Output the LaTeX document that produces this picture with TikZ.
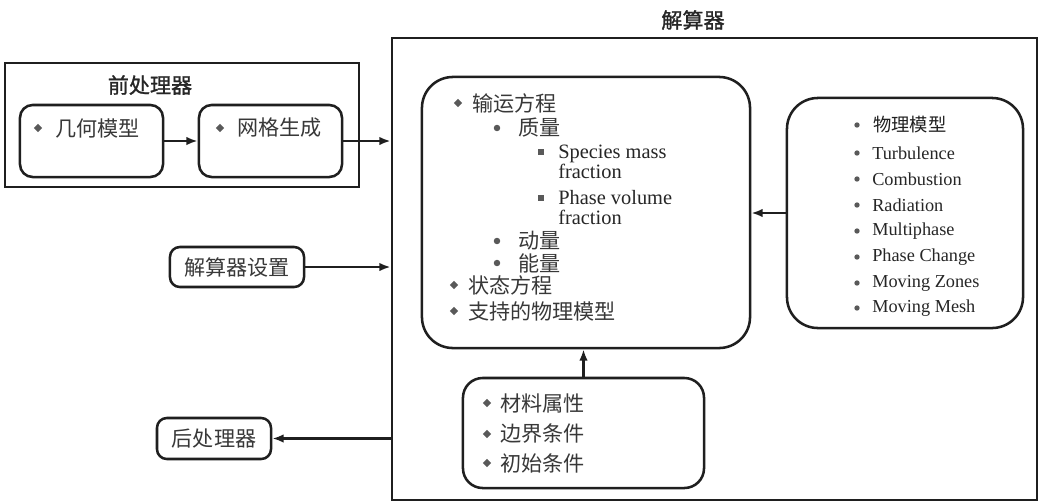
\documentclass[tikz,border=0pt]{standalone}
\usepackage{fontspec}
\setmainfont{Liberation Serif}
\newfontfamily\cjk{Noto Sans CJK SC}
\newfontfamily\cjkb[FakeBold=1.2]{Noto Sans CJK SC}
\usetikzlibrary{arrows.meta}
\newcommand\mydia[2]{\fill[bulc] (#1,#2) +(-4.2,0) -- +(0,-4.2) -- +(4.2,0) -- +(0,4.2) -- cycle;}
\newcommand\mycirc[3][2.3pt]{\fill[bulc] (#2,#3) circle[radius=#1];}
\newcommand\mysq[2]{\fill[bulc] (#1,#2) +(-3.3,-3.3) rectangle +(3.3,3.3);}
\begin{document}
\begin{tikzpicture}[x=0.025cm,y=-0.025cm,
  bulc/.style={fill=black!65},
  ln/.style={draw=black!88, line width=1.8pt},
  sqbox/.style={ln, rectangle, inner sep=0pt},
  rbox/.style={ln, rectangle, rounded corners=#1, inner sep=0pt},
  rbox/.default=8pt,
  arr/.style={draw=black!88, line width=2pt, -{Latex[length=8pt,width=6pt]}},
  cj/.style={font=\cjk\fontsize{15}{17}\selectfont, text=black!78, inner sep=0pt},
  cjs/.style={font=\cjk\fontsize{13}{15}\selectfont, text=black!88, inner sep=0pt},
  en/.style={font=\fontsize{14.5}{14.2}\selectfont, text=black!85, inner sep=0pt, align=left},
  ens/.style={font=\fontsize{13}{15}\selectfont, text=black!85, inner sep=0pt},
  ttl/.style={font=\cjkb\fontsize{15}{17}\selectfont, text=black!85, inner sep=0pt},
  lt/.style={anchor=west}
]
\path[fill=white, use as bounding box] (0,0) rectangle (1041,502);

% boxes
\node[sqbox, minimum width=8.85cm, minimum height=3.1cm] (pre) at (182,125) {};
\node[rbox=9pt, minimum width=3.575cm, minimum height=1.8cm] (geo) at (91.5,141) {};
\node[rbox=9pt, minimum width=3.575cm, minimum height=1.8cm] (mesh) at (270.5,141) {};
\node[sqbox, minimum width=16.125cm, minimum height=11.55cm] (solver) at (714.5,269) {};
\node[rbox=22pt, minimum width=8.2cm, minimum height=6.775cm] (trans) at (586,212.5) {};
\node[rbox=22pt, minimum width=5.9cm, minimum height=5.75cm] (phys) at (905,213) {};
\node[rbox=7pt, minimum width=3.35cm, minimum height=1.0cm, cj] (setup) at (237,267) {解算器设置};
\node[rbox=14pt, minimum width=6.025cm, minimum height=2.75cm] (mat) at (583.5,433) {};
\node[rbox=7pt, minimum width=2.85cm, minimum height=1.025cm, cj] (post) at (214,438.5) {后处理器};

% titles
\node[ttl] (pretitle) at (150,85) {前处理器};
\node[ttl] (soltitle) at (693,20) {解算器};

% preprocessor texts
\mydia{38}{128}
\node[cj, lt] (geot) at (55,128) {几何模型};
\mydia{220}{128}
\node[cj, lt] (mesht) at (237,128) {网格生成};

% transport box texts
\mydia{458}{103}
\node[cj, lt] (t1) at (472,103) {输运方程};
\mycirc{497}{128}
\node[cj, lt] (t2) at (518,128) {质量};
\mysq{541}{152}
\node[en, lt] (t3) at (558,162) {Species mass\\fraction};
\mysq{541}{198}
\node[en, lt] (t4) at (558,208) {Phase volume\\fraction};
\mycirc{497}{241}
\node[cj, lt] (t5) at (518,241) {动量};
\mycirc{497}{263}
\node[cj, lt] (t6) at (518,263) {能量};
\mydia{454}{285}
\node[cj, lt] (t7) at (468,285) {状态方程};
\mydia{454}{311}
\node[cj, lt] (t8) at (468,311) {支持的物理模型};

% physical models texts
\mycirc[1.9pt]{857}{125}
\node[cjs, lt] (p1) at (873,125) {物理模型};
\mycirc[1.9pt]{857}{153}
\node[ens, lt] (p2) at (872,153) {Turbulence};
\mycirc[1.9pt]{857}{179}
\node[ens, lt] (p3) at (872,179) {Combustion};
\mycirc[1.9pt]{857}{205}
\node[ens, lt] (p4) at (872,205) {Radiation};
\mycirc[1.9pt]{857}{231}
\node[ens, lt] (p5) at (872,231) {Multiphase};
\mycirc[1.9pt]{857}{257}
\node[ens, lt] (p6) at (872,257) {Phase Change};
\mycirc[1.9pt]{857}{283}
\node[ens, lt] (p7) at (872,283) {Moving Zones};
\mycirc[1.9pt]{857}{308}
\node[ens, lt] (p8) at (872,308) {Moving Mesh};

% material texts
\mydia{487}{403}
\node[cj, lt] (m1) at (500,403) {材料属性};
\mydia{487}{434}
\node[cj, lt] (m2) at (500,434) {边界条件};
\mydia{487}{463}
\node[cj, lt] (m3) at (500,463) {初始条件};

% connectors
\draw[arr] (geo.east) -- (mesh.west);
\draw[arr] (mesh.east) -- (mesh.east -| solver.west);
\draw[arr] (setup.east) -- (setup.east -| solver.west);
\draw[arr] (post.east -| solver.west) -- (post.east);
\draw[arr] (phys.west) -- (phys.west -| trans.east);
\draw[arr] (mat.north) -- (mat.north |- trans.south);
\end{tikzpicture}
\end{document}
